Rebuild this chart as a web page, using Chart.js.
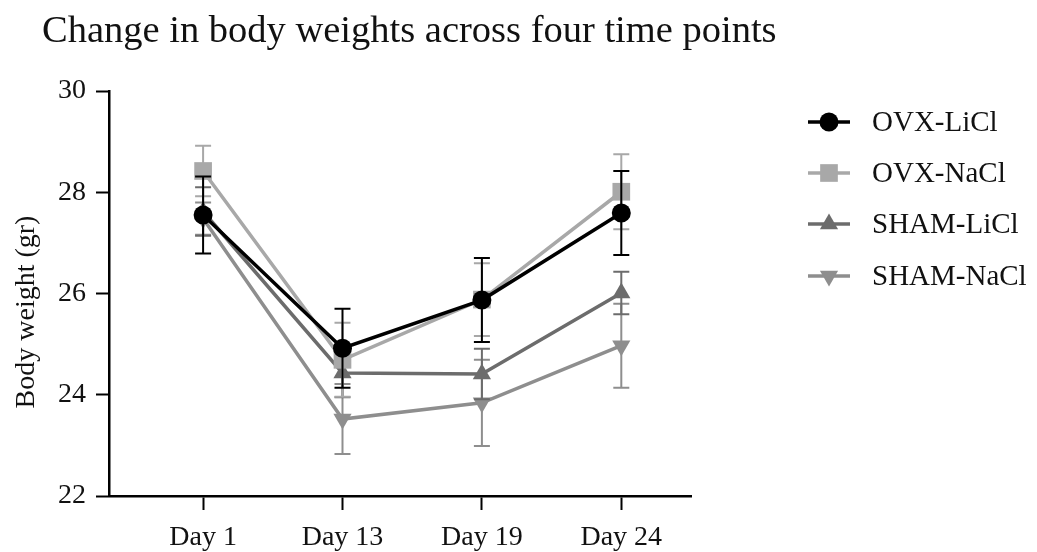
<!DOCTYPE html>
<html>
<head>
<meta charset="utf-8">
<title>Body weights</title>
<script src="https://cdn.jsdelivr.net/npm/chart.js@4.4.1/dist/chart.umd.min.js"></script>
<style>
  html, body { margin: 0; padding: 0; background: #ffffff; }
  #wrap { width: 1037px; height: 552px; position: relative; }
</style>
</head>
<body>
<div id="wrap"><canvas id="chart"></canvas></div>
<script>
// Time points and group means (g) with their error bars
const dayLabels = ['Day 1', 'Day 13', 'Day 19', 'Day 24'];
const dayIndex = [0, 1, 2, 3];

const ovxLiCl = [27.55, 24.92, 25.87, 27.59];
const ovxLiClErr = [0.76, 0.78, 0.83, 0.83];

const ovxNaCl = [28.42, 24.69, 25.88, 28.01];
const ovxNaClErr = [0.50, 0.73, 0.72, 0.74];

const shamLiCl = [27.62, 24.43, 24.41, 26.01];
const shamLiClErr = [0.48, 0.48, 0.50, 0.42];

const shamNaCl = [27.48, 23.52, 23.84, 24.97];
const shamNaClErr = [0.32, 0.69, 0.85, 0.83];

const yTicks = [22, 24, 26, 28, 30];

const SERIF = '"Liberation Serif", "Times New Roman", serif';

function pts(values) {
  return values.map((v, i) => ({ x: dayIndex[i], y: v }));
}

function series(label, values, errors, color, style, rotation, radius, lw) {
  return {
    label: label,
    data: pts(values),
    errors: errors,
    borderColor: color,
    backgroundColor: color,
    borderWidth: lw,
    pointStyle: style,
    pointRotation: rotation,
    pointRadius: radius,
    pointHoverRadius: radius,
    pointBorderWidth: 0,
    pointBackgroundColor: color,
    tension: 0,
    fill: false
  };
}

// Vertical error bars with caps, drawn just before each series' line and markers
const errorBars = {
  id: 'errorBars',
  beforeDatasetDraw(chart, args) {
    const ds = chart.data.datasets[args.index];
    const yScale = chart.scales.y;
    const ctx = chart.ctx;
    ctx.save();
    ctx.strokeStyle = ds.borderColor;
    ctx.lineWidth = 2;
    args.meta.data.forEach((el, i) => {
      const v = ds.data[i].y;
      const e = ds.errors[i];
      const top = yScale.getPixelForValue(v + e);
      const bot = yScale.getPixelForValue(v - e);
      const x = el.x;
      ctx.beginPath();
      ctx.moveTo(x, top); ctx.lineTo(x, bot);
      ctx.moveTo(x - 8, top); ctx.lineTo(x + 8, top);
      ctx.moveTo(x - 8, bot); ctx.lineTo(x + 8, bot);
      ctx.stroke();
    });
    ctx.restore();
  }
};

// Heading, rotated y-axis title and the line-and-marker legend on the right
const decorations = {
  id: 'decorations',
  afterDraw(chart) {
    const ctx = chart.ctx;
    ctx.save();
    ctx.fillStyle = '#111111';
    ctx.font = '38.5px ' + SERIF;
    ctx.textBaseline = 'alphabetic';
    ctx.textAlign = 'left';
    ctx.fillText('Change in body weights across four time points', 42, 42);

    ctx.save();
    ctx.translate(27, 312);
    ctx.rotate(-Math.PI / 2);
    ctx.font = '28px ' + SERIF;
    ctx.textAlign = 'center';
    ctx.textBaseline = 'middle';
    ctx.fillText('Body weight (gr)', 0, 0);
    ctx.restore();

    const rowY = [122, 173, 224, 276];
    chart.data.datasets.forEach((ds, i) => {
      const y = rowY[i];
      ctx.strokeStyle = ds.borderColor;
      ctx.lineWidth = 3.5;
      ctx.beginPath();
      ctx.moveTo(808, y); ctx.lineTo(850, y);
      ctx.stroke();
      ctx.fillStyle = ds.borderColor;
      Chart.helpers.drawPoint(ctx, {
        pointStyle: ds.pointStyle,
        rotation: ds.pointRotation,
        radius: ds.pointRadius,
        borderWidth: 0
      }, 829, y);
      ctx.fillStyle = '#111111';
      ctx.font = '29px ' + SERIF;
      ctx.textAlign = 'left';
      ctx.textBaseline = 'middle';
      ctx.fillText(ds.label, 872, y + 1);
    });
    ctx.restore();
  }
};

new Chart(document.getElementById('chart'), {
  type: 'line',
  data: {
    datasets: [
      series('OVX-LiCl', ovxLiCl, ovxLiClErr, '#000000', 'circle', 0, 9.5, 3.5),
      series('OVX-NaCl', ovxNaCl, ovxNaClErr, '#a8a8a8', 'rect', 0, 12.5, 3.5),
      series('SHAM-LiCl', shamLiCl, shamLiClErr, '#6c6c6c', 'triangle', 0, 10.5, 3.5),
      series('SHAM-NaCl', shamNaCl, shamNaClErr, '#8e8e8e', 'triangle', 180, 10.5, 3.5)
    ]
  },
  options: {
    responsive: true,
    maintainAspectRatio: false,
    animation: false,
    layout: { padding: { top: 91, right: 346, bottom: 0, left: 0 } },
    plugins: {
      legend: { display: false },
      title: { display: false },
      tooltip: { enabled: false }
    },
    scales: {
      x: {
        type: 'linear',
        min: -0.675,
        max: 3.5,
        afterBuildTicks(scale) {
          scale.ticks = dayIndex.map(v => ({ value: v }));
        },
        afterFit(scale) { scale.height = 56; },
        ticks: {
          callback: (v) => dayLabels[v],
          color: '#111111',
          font: { family: SERIF, size: 28 },
          padding: 11,
          maxRotation: 0,
          autoSkip: false
        },
        grid: {
          drawOnChartArea: false,
          drawTicks: true,
          tickLength: 14,
          tickWidth: 2,
          tickColor: '#000000'
        },
        border: { display: true, color: '#000000', width: 2.5 }
      },
      y: {
        type: 'linear',
        min: 22,
        max: 30,
        afterBuildTicks(scale) {
          scale.ticks = yTicks.map(v => ({ value: v }));
        },
        afterFit(scale) { scale.width = 109; },
        ticks: {
          color: '#111111',
          font: { family: SERIF, size: 28 },
          padding: 10
        },
        grid: {
          drawOnChartArea: false,
          drawTicks: true,
          tickLength: 13,
          tickWidth: 2,
          tickColor: '#000000'
        },
        border: { display: true, color: '#000000', width: 2.5 }
      }
    }
  },
  plugins: [errorBars, decorations]
});
</script>
</body>
</html>
